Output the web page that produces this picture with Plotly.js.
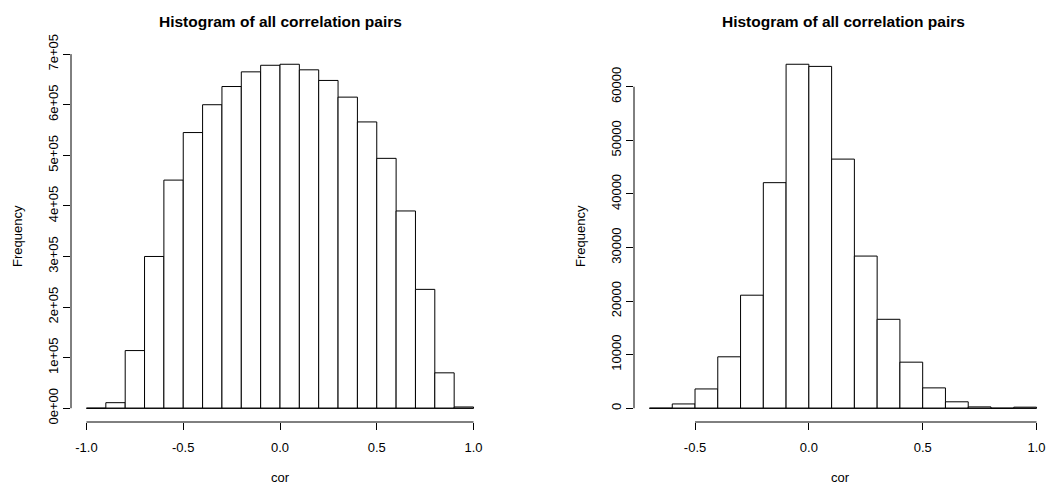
<!DOCTYPE html>
<html><head><meta charset="utf-8">
<script src="https://cdn.plot.ly/plotly-3.0.1.min.js"></script>
<style>html,body{margin:0;padding:0;background:#fff}#chart{width:1046px;height:485px}</style>
</head><body><div id="chart"></div>
<script>
const chartTitle = "Histogram of all correlation pairs";
const xLabel = "cor";
const yLabel = "Frequency";

const leftBreaks = [-1.0,-0.9,-0.8,-0.7,-0.6,-0.5,-0.4,-0.3,-0.2,-0.1,0.0,0.1,0.2,0.3,0.4,0.5,0.6,0.7,0.8,0.9,1.0];
const leftCounts = [0,11000,114000,300000,451000,545000,600000,636000,665000,678000,680000,669000,648000,615000,566000,494000,390000,235000,70000,2500];
const leftXTicks = [-1.0,-0.5,0.0,0.5,1.0];
const leftXTickText = ["-1.0","-0.5","0.0","0.5","1.0"];
const leftYTicks = [0,100000,200000,300000,400000,500000,600000,700000];
const leftYTickText = ["0e+00","1e+05","2e+05","3e+05","4e+05","5e+05","6e+05","7e+05"];

const rightBreaks = [-0.7,-0.6,-0.5,-0.4,-0.3,-0.2,-0.1,0.0,0.1,0.2,0.3,0.4,0.5,0.6,0.7,0.8,0.9,1.0];
const rightCounts = [0,800,3600,9600,21100,42100,64200,63800,46500,28400,16600,8600,3800,1200,250,0,200];
const rightXTicks = [-0.5,0.0,0.5,1.0];
const rightXTickText = ["-0.5","0.0","0.5","1.0"];
const rightYTicks = [0,10000,20000,30000,40000,50000,60000];
const rightYTickText = ["0","10000","20000","30000","40000","50000","60000"];

const W = 1046, H = 485;
const FONT = "Liberation Sans, Arial, sans-serif";
// plot boxes in pixels (R-style plot regions)
const boxTop = 50.5, boxBottom = 422;
const leftBox = [71, 489], rightBox = [634, 1052];

function mids(b){ const m=[]; for(let i=0;i<b.length-1;i++) m.push((b[i]+b[i+1])/2); return m; }
function widths(b){ const w=[]; for(let i=0;i<b.length-1;i++) w.push(b[i+1]-b[i]); return w; }
function usr(lo,hi){ const s=hi-lo; return [lo-0.04*s, hi+0.04*s]; }
function clipRange(box, r){
  const visR = Math.min(box[1], W);
  const frac = (visR-box[0])/(box[1]-box[0]);
  return {domain:[box[0]/W, visR/W], range:[r[0], r[0]+frac*(r[1]-r[0])]};
}

const yDomain = [(H-boxBottom)/H, (H-boxTop)/H];
const lX = clipRange(leftBox, usr(leftBreaks[0], leftBreaks[leftBreaks.length-1]));
const rX = clipRange(rightBox, usr(rightBreaks[0], rightBreaks[rightBreaks.length-1]));
const lY = usr(0, Math.max(...leftCounts));
const rY = usr(0, Math.max(...rightCounts));

function barTrace(b, c, xa, ya){
  return {type:'bar', x:mids(b), y:c, width:widths(b), base:0, xaxis:xa, yaxis:ya,
    marker:{color:'#ffffff', line:{color:'#000000', width:1}}, hoverinfo:'skip', showlegend:false};
}
function baseTrace(b, xa, ya){
  return {type:'scatter', mode:'lines', x:[b[0], b[b.length-1]], y:[0,0], xaxis:xa, yaxis:ya,
    line:{color:'#000000', width:1}, hoverinfo:'skip', showlegend:false};
}

const data = [
  barTrace(leftBreaks, leftCounts, 'x', 'y'), baseTrace(leftBreaks, 'x', 'y'),
  barTrace(rightBreaks, rightCounts, 'x2', 'y2'), baseTrace(rightBreaks, 'x2', 'y2')
];

const tickFont = {family:FONT, size:13, color:'#000'};
function xaxis(d, tv, tt, anchor){
  return {domain:d.domain, range:d.range, anchor:anchor, tickmode:'array', tickvals:tv, ticktext:tt,
    ticks:'outside', ticklen:7, tickwidth:1, tickcolor:'#000', showline:false, showgrid:false, zeroline:false,
    tickfont:tickFont, ticklabelstandoff:6, ticklabeloverflow:'allow', automargin:false, fixedrange:true,
    title:{text:xLabel, font:{family:FONT, size:13, color:'#000'}, standoff:20}};
}
function yaxis(r, tv, tt, anchor){
  return {domain:yDomain, range:r, anchor:anchor, tickmode:'array', tickvals:tv, ticktext:tt,
    ticks:'outside', ticklen:7, tickwidth:1, tickcolor:'#000', showline:false, showgrid:false, zeroline:false,
    tickangle:-90, tickfont:tickFont, ticklabeloverflow:'allow', automargin:false, fixedrange:true,
    title:{text:yLabel, font:{family:FONT, size:13, color:'#000'}, standoff:20}};
}

function axisLines(xa, ya, xt, yt, xDom){
  return [
    {type:'line', xref:xa, yref:'paper', x0:xt[0], x1:xt[xt.length-1], y0:yDomain[0], y1:yDomain[0], line:{color:'#000', width:1}},
    {type:'line', xref:'paper', yref:ya, x0:xDom[0], x1:xDom[0], y0:yt[0], y1:yt[yt.length-1], line:{color:'#000', width:1}}
  ];
}

const layout = {
  width:W, height:H, margin:{l:0,r:0,t:0,b:0}, paper_bgcolor:'#fff', plot_bgcolor:'#fff',
  bargap:0, showlegend:false, hovermode:false,
  xaxis: xaxis(lX, leftXTicks, leftXTickText, 'y'),
  yaxis: yaxis(lY, leftYTicks, leftYTickText, 'x'),
  xaxis2: xaxis(rX, rightXTicks, rightXTickText, 'y2'),
  yaxis2: yaxis(rY, rightYTicks, rightYTickText, 'x2'),
  shapes: [].concat(axisLines('x','y',leftXTicks,leftYTicks,lX.domain), axisLines('x2','y2',rightXTicks,rightYTicks,rX.domain)),
  annotations: [
    {text:'<b>'+chartTitle+'</b>', xref:'paper', yref:'paper', x:(leftBox[0]+leftBox[1])/2/W, y:1-21.7/H,
     xanchor:'center', yanchor:'middle', showarrow:false, font:{family:FONT, size:15.5, color:'#000'}},
    {text:'<b>'+chartTitle+'</b>', xref:'paper', yref:'paper', x:(rightBox[0]+rightBox[1])/2/W, y:1-21.7/H,
     xanchor:'center', yanchor:'middle', showarrow:false, font:{family:FONT, size:15.5, color:'#000'}}
  ]
};

Plotly.newPlot('chart', data, layout, {displayModeBar:false, staticPlot:true});
</script>
</body></html>
